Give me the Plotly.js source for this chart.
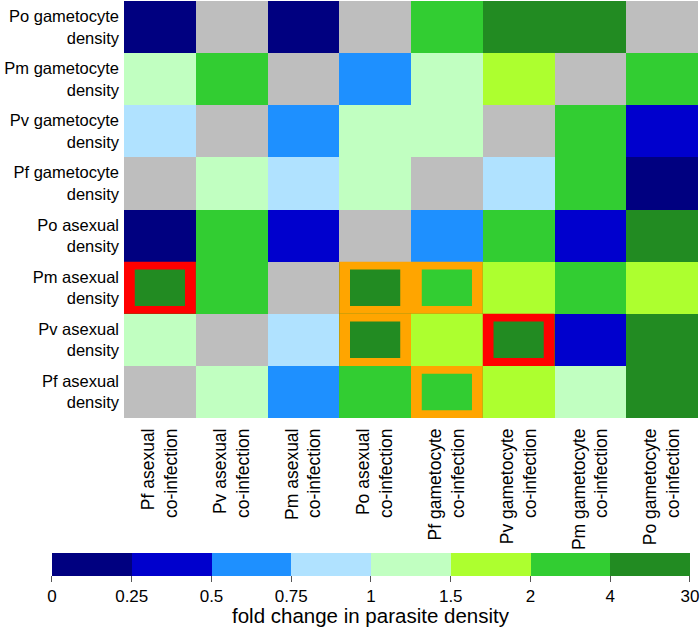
<!DOCTYPE html>
<html>
<head>
<meta charset="utf-8">
<script src="https://cdn.plot.ly/plotly-3.0.1.min.js"></script>
<style>
  body { margin: 0; background: #fff; }
  #heatmapChart { width: 700px; height: 630px; }
</style>
</head>
<body>
<div id="heatmapChart"></div>
<script>
// rows top to bottom, columns left to right
const rowLabels = ['Po gametocyte<br>density', 'Pm gametocyte<br>density', 'Pv gametocyte<br>density',
    'Pf gametocyte<br>density', 'Po asexual<br>density', 'Pm asexual<br>density',
    'Pv asexual<br>density', 'Pf asexual<br>density'];
const colLabels = ['Pf asexual<br>co-infection', 'Pv asexual<br>co-infection', 'Pm asexual<br>co-infection',
    'Po asexual<br>co-infection', 'Pf gametocyte<br>co-infection', 'Pv gametocyte<br>co-infection',
    'Pm gametocyte<br>co-infection', 'Po gametocyte<br>co-infection'];

// fold change in parasite density (null = not estimated, grey)
const poGametocyte = [0.15, null, 0.15, null, 3, 8, 8, null];
const pmGametocyte = [1.2, 3, null, 0.6, 1.2, 1.7, null, 3];
const pvGametocyte = [0.9, null, 0.6, 1.2, 1.2, null, 3, 0.4];
const pfGametocyte = [null, 1.2, 0.9, 1.2, null, 0.9, 3, 0.15];
const poAsexual = [0.15, 3, 0.4, null, 0.6, 3, 0.4, 8];
const pmAsexual = [8, 3, null, 8, 3, 1.7, 3, 1.7];
const pvAsexual = [1.2, null, 0.9, 8, 1.7, 8, 0.4, 8];
const pfAsexual = [null, 1.2, 0.6, 3, 3, 1.7, 1.2, 8];

const foldChange = [poGametocyte, pmGametocyte, pvGametocyte, pfGametocyte,
    poAsexual, pmAsexual, pvAsexual, pfAsexual];

// colour bins
const breaks = [0, 0.25, 0.5, 0.75, 1, 1.5, 2, 4, 30];
const breakLabels = ['0', '0.25', '0.5', '0.75', '1', '1.5', '2', '4', '30'];
const binColors = ['#000080', '#0000CD', '#1E90FF', '#B0E2FF', '#C1FFC1', '#ADFF2F', '#32CD32', '#228B22'];

// highlighted cells [row, col]
const redCells = [[5, 0], [6, 5]];
const orangeCells = [[5, 3], [5, 4], [6, 3], [7, 4]];

function binOf(v) {
    if (v === null) return null;
    for (let i = 0; i < breaks.length - 1; i++) {
        if (v < breaks[i + 1]) return i;
    }
    return breaks.length - 2;
}

document.addEventListener('DOMContentLoaded', () => {
    const nBins = binColors.length;
    const z = foldChange.map(row => row.map(v => {
        const b = binOf(v);
        return b === null ? null : b + 0.5;
    }));

    const colorscale = [];
    binColors.forEach((c, i) => {
        colorscale.push([i / nBins, c]);
        colorscale.push([(i + 1) / nBins, c]);
    });

    const shapes = [];
    const inset = 0.15;
    function frame(cells, color) {
        cells.forEach(([r, c]) => {
            shapes.push({
                type: 'rect', xref: 'x', yref: 'y', layer: 'above',
                x0: c - 0.5, x1: c + 0.5, y0: r - 0.5, y1: r + 0.5,
                fillcolor: color, line: {width: 0}
            });
            shapes.push({
                type: 'rect', xref: 'x', yref: 'y', layer: 'above',
                x0: c - 0.5 + inset, x1: c + 0.5 - inset, y0: r - 0.5 + inset, y1: r + 0.5 - inset,
                fillcolor: binColors[binOf(foldChange[r][c])], line: {width: 0}
            });
        });
    }
    frame(orangeCells, '#FFA500');
    frame(redCells, '#FF0000');

    const idx = colLabels.map((_, i) => i);

    Plotly.newPlot('heatmapChart', [{
        type: 'heatmap',
        z: z,
        x: idx,
        y: rowLabels.map((_, i) => i),
        zmin: 0,
        zmax: nBins,
        colorscale: colorscale,
        hoverongaps: false,
        colorbar: {
            orientation: 'h',
            x: 0.4303, xanchor: 'center',
            y: -0.3237, yanchor: 'top',
            lenmode: 'pixels', len: 638,
            thickness: 23,
            xpad: 0, ypad: 0,
            outlinewidth: 0,
            tickmode: 'array',
            tickvals: breaks.map((_, i) => i),
            ticktext: breakLabels,
            ticklabeloverflow: 'allow',
            ticks: 'outside', ticklen: 6, tickcolor: '#555',
            tickfont: {size: 17, color: '#000'}
        }
    }], {
        width: 700,
        height: 630,
        margin: {l: 124, r: 2, t: 1, b: 212, autoexpand: false},
        paper_bgcolor: '#FFFFFF',
        plot_bgcolor: '#BEBEBE',
        font: {family: 'Liberation Sans, Arial, sans-serif', color: '#000'},
        xaxis: {
            range: [-0.5, 7.5],
            automargin: false,
            tickmode: 'array', tickvals: idx, ticktext: colLabels,
            tickangle: -90, tickfont: {size: 17.5},
            ticklabelstandoff: 6,
            showgrid: false, zeroline: false, showline: false, ticks: ''
        },
        yaxis: {
            range: [7.5, -0.5],
            automargin: false,
            tickmode: 'array', tickvals: rowLabels.map((_, i) => i), ticktext: rowLabels,
            tickfont: {size: 16.5},
            ticklabelstandoff: 4,
            showgrid: false, zeroline: false, showline: false, ticks: ''
        },
        shapes: shapes,
        annotations: [{
            text: 'fold change in parasite density',
            xref: 'paper', yref: 'paper',
            x: 0.4303, y: -0.506,
            xanchor: 'center', yanchor: 'bottom',
            showarrow: false,
            font: {size: 20.5, color: '#000'}
        }]
    }, {displayModeBar: false});
    console.log('heatmap plotted');
});
</script>
</body>
</html>
